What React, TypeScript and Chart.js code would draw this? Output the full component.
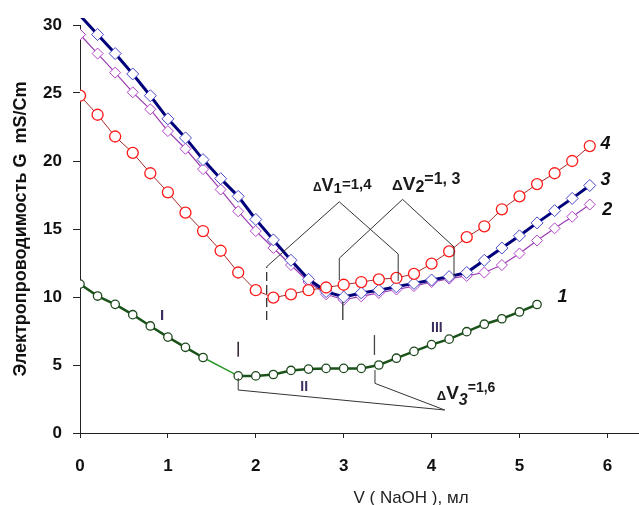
import React, { useEffect, useRef } from "react";
import { Chart, registerables } from "chart.js";
Chart.register(...registerables);

// Volumes of NaOH (ml)
const volumes = [0, 0.2, 0.4, 0.6, 0.8, 1.0, 1.2, 1.4, 1.6, 1.8, 2.0, 2.2, 2.4, 2.6, 2.8, 3.0, 3.2, 3.4, 3.6, 3.8, 4.0, 4.2, 4.4, 4.6, 4.8, 5.0, 5.2, 5.4, 5.6, 5.8];
const volumes1 = [0, 0.2, 0.4, 0.6, 0.8, 1.0, 1.2, 1.4, 1.8, 2.0, 2.2, 2.4, 2.6, 2.8, 3.0, 3.2, 3.4, 3.6, 3.8, 4.0, 4.2, 4.4, 4.6, 4.8, 5.0, 5.2];

// Conductance G (mS/cm)
const curve4 = [24.8, 23.4, 21.8, 20.6, 19.1, 17.7, 16.2, 14.85, 13.4, 11.8, 10.5, 9.95, 10.2, 10.5, 10.7, 10.9, 11.1, 11.3, 11.4, 11.7, 12.45, 13.35, 14.4, 15.2, 16.45, 17.4, 18.3, 19.1, 20.0, 21.1];
const curve3 = [30.7, 29.3, 27.9, 26.4, 24.8, 23.1, 21.7, 20.1, 18.7, 17.4, 15.7, 14.2, 12.7, 11.3, 10.4, 10.0, 10.3, 10.5, 10.75, 11.0, 11.25, 11.5, 11.8, 12.7, 13.6, 14.5, 15.45, 16.35, 17.25, 18.2];
const curve2 = [29.3, 27.9, 26.5, 25.05, 23.8, 22.2, 20.9, 19.4, 17.9, 16.3, 14.85, 13.6, 12.35, 11.1, 10.2, 9.8, 10.05, 10.3, 10.55, 10.8, 11.1, 11.35, 11.55, 11.8, 12.35, 13.2, 14.15, 15.05, 15.9, 16.8];
const curve1 = [10.95, 10.07, 9.46, 8.7, 7.87, 7.05, 6.3, 5.55, 4.2, 4.2, 4.3, 4.6, 4.7, 4.75, 4.75, 4.75, 5.0, 5.5, 6.0, 6.5, 6.9, 7.45, 8.0, 8.4, 8.9, 9.45];

const xTicks = [0, 1, 2, 3, 4, 5, 6];
const yTicks = [0, 5, 10, 15, 20, 25, 30];
const seriesNames = ["4", "3", "2", "1"];
const romanLabels = ["I", "II", "III"];
const deltaLabels = [
  { idx: "1", val: "=1,4" },
  { idx: "2", val: "=1, 3" },
  { idx: "3", val: "=1,6" },
];

const FONT = '"Liberation Sans", Arial, sans-serif';

function pts(xs: number[], ys: number[]) {
  return xs.map((x, i) => ({ x, y: ys[i] }));
}

type Piece = { t: string; size: number; dy: number; italic?: boolean };

function drawRich(ctx: CanvasRenderingContext2D, x: number, y: number, pieces: Piece[]) {
  let cx = x;
  for (const p of pieces) {
    ctx.font = `${p.italic ? "italic " : ""}bold ${p.size}px ${FONT}`;
    ctx.fillText(p.t, cx, y + p.dy);
    cx += ctx.measureText(p.t).width;
  }
}

const annotationPlugin = {
  id: "annotations",
  afterDatasetsDraw(chart: any) {
    const ctx: CanvasRenderingContext2D = chart.ctx;
    const xs = chart.scales.x;
    const ys = chart.scales.y;
    const X = (v: number) => xs.getPixelForValue(v);
    const Y = (v: number) => ys.getPixelForValue(v);
    const line = (p: number[][], w = 1, color = "#333", dash: number[] = []) => {
      ctx.save();
      ctx.strokeStyle = color;
      ctx.lineWidth = w;
      ctx.setLineDash(dash);
      ctx.beginPath();
      p.forEach(([a, b], i) => (i === 0 ? ctx.moveTo(X(a), Y(b)) : ctx.lineTo(X(a), Y(b))));
      ctx.stroke();
      ctx.restore();
    };
    // ΔV1 bracket
    line([[2.124, 8.31], [2.124, 12.23]], 1.3, "#333", [9, 4]);
    line([[2.124, 12.23], [2.95, 17.0], [3.62, 13.16], [3.62, 11.18]]);
    // ΔV2 bracket
    line([[2.95, 11.25], [2.95, 12.85], [3.67, 17.18], [4.255, 13.68], [4.255, 11.47]]);
    line([[2.99, 9.65], [2.99, 8.31]], 1.3);
    // ΔV3 bracket
    line([[1.8, 6.71], [1.8, 5.61]], 1.6, "#3a2a3a");
    line([[3.35, 7.2], [3.35, 5.74]], 1.3, "#444");
    line([[1.8, 4.04], [1.8, 3.16], [4.15, 1.69]]);
    line([[3.356, 4.63], [3.356, 3.65], [4.15, 1.69]]);

    ctx.save();
    ctx.fillStyle = "#1a1a1a";
    ctx.textBaseline = "alphabetic";
    ctx.textAlign = "left";
    drawRich(ctx, X(2.65), Y(17.8), [
      { t: "Δ", size: 12, dy: 0 },
      { t: "V", size: 18, dy: 0 },
      { t: deltaLabels[0].idx, size: 15, dy: 2 },
      { t: deltaLabels[0].val, size: 15, dy: -2 },
    ]);
    drawRich(ctx, X(3.55), Y(17.87), [
      { t: "Δ", size: 15, dy: 0 },
      { t: "V", size: 19, dy: 0 },
      { t: deltaLabels[1].idx, size: 16, dy: 2 },
      { t: deltaLabels[1].val, size: 16, dy: -6 },
    ]);
    drawRich(ctx, X(4.06), Y(2.5), [
      { t: "Δ", size: 13, dy: 1 },
      { t: "V", size: 19, dy: 0 },
      { t: deltaLabels[2].idx, size: 16, dy: 6, italic: true },
      { t: deltaLabels[2].val, size: 14, dy: -7 },
    ]);

    // Roman numerals
    ctx.textAlign = "center";
    ctx.fillStyle = "#3b2d5c";
    ctx.font = `bold 15px ${FONT}`;
    ctx.fillText(romanLabels[0], X(0.933), Y(8.31));
    ctx.font = `bold 14px ${FONT}`;
    ctx.fillText(romanLabels[1], X(2.55), Y(3.09));
    ctx.fillText(romanLabels[2], X(4.06), Y(7.43));

    // Series numbers
    ctx.fillStyle = "#111";
    ctx.font = `italic bold 18px ${FONT}`;
    ctx.fillText(seriesNames[0], X(5.98), Y(20.9));
    ctx.fillText(seriesNames[1], X(5.98), Y(18.24));
    ctx.fillText(seriesNames[2], X(6.0), Y(16.0));
    ctx.fillText(seriesNames[3], X(5.49), Y(9.63));

    // x-axis title
    ctx.fillStyle = "#222";
    ctx.font = `17px ${FONT}`;
    ctx.fillText("V ( NaOH ), мл", 411, 503);
    ctx.restore();
  },
};

export default function App() {
  const ref = useRef<HTMLCanvasElement>(null);
  useEffect(() => {
    if (!ref.current) return;
    const chart = new Chart(ref.current, {
      type: "line",
      data: {
        datasets: [
          {
            label: "4",
            data: pts(volumes, curve4),
            borderColor: "#a52a2a",
            borderWidth: 1,
            pointStyle: "circle",
            pointRadius: 5.5,
            pointBorderColor: "#ff1a1a",
            pointBorderWidth: 1.3,
            pointBackgroundColor: "#ffffff",
          },
          {
            label: "3",
            data: pts(volumes, curve3),
            borderColor: "#00007a",
            borderWidth: 3,
            pointStyle: "rectRot",
            pointRadius: (c: any) => (c.dataIndex === 0 ? 0 : 6),
            pointBorderColor: "#4646c8",
            pointBorderWidth: 1,
            pointBackgroundColor: "#ffffff",
            clip: { left: 0, top: 7, right: 0, bottom: 0 },
          },
          {
            label: "2",
            data: pts(volumes, curve2),
            borderColor: "#9a3cb0",
            borderWidth: 1.2,
            pointStyle: "rectRot",
            pointRadius: 5.5,
            pointBorderColor: "#b344c8",
            pointBorderWidth: 1,
            pointBackgroundColor: "#ffffff",
          },
          {
            label: "1",
            data: pts(volumes1, curve1),
            borderColor: "#1a531a",
            borderWidth: 2.5,
            segment: {
              borderColor: (c: any) => (c.p0.parsed.x > 1.3 && c.p0.parsed.x < 1.5 ? "#2e9a2e" : undefined),
              borderWidth: (c: any) => (c.p0.parsed.x > 1.3 && c.p0.parsed.x < 1.5 ? 1.5 : undefined),
            },
            pointStyle: "circle",
            pointRadius: 4.2,
            pointBorderColor: "#1e4a1e",
            pointBorderWidth: 1.3,
            pointBackgroundColor: "#ffffff",
          },
        ],
      },
      options: {
        animation: false,
        responsive: false,
        devicePixelRatio: 1,
        layout: { padding: { top: 25, right: 0, left: 0, bottom: 0 } },
        plugins: { legend: { display: false }, tooltip: { enabled: false } },
        elements: { line: { tension: 0 } },
        scales: {
          x: {
            type: "linear",
            min: 0,
            max: 6.36,
            afterFit: (s: any) => {
              s.height = 72;
              s.paddingLeft = 0;
              s.paddingRight = 0;
            },
            afterBuildTicks: (s: any) => {
              s.ticks = xTicks.map((v) => ({ value: v }));
            },
            ticks: {
              stepSize: 1,
              includeBounds: false,
              padding: 18,
              color: "#111",
              font: { family: FONT, size: 17, weight: "bold" },
            },
            grid: { display: true, drawOnChartArea: false, drawTicks: true, tickLength: 5, color: "#222" },
            border: { display: true, color: "#222", width: 1 },
          },
          y: {
            type: "linear",
            min: 0,
            max: 30,
            afterFit: (s: any) => {
              s.width = 80;
            },
            afterBuildTicks: (s: any) => {
              s.ticks = yTicks.map((v) => ({ value: v }));
            },
            ticks: {
              stepSize: 5,
              padding: 11,
              color: "#111",
              font: { family: FONT, size: 17, weight: "bold" },
            },
            grid: { display: true, drawOnChartArea: false, drawTicks: true, tickLength: 7, color: "#222" },
            border: { display: true, color: "#222", width: 1 },
            title: {
              display: true,
              text: "Электропроводимость G  mS/Cm",
              color: "#111",
              font: { family: FONT, size: 18, weight: "bold" },
              padding: { top: 10, bottom: 0 },
            },
          },
        },
      },
      plugins: [annotationPlugin],
    } as any);
    return () => chart.destroy();
  }, []);
  return (
    <div style={{ position: "fixed", left: 0, top: 0, width: 639, height: 505, overflow: "hidden", background: "#fff" }}>
      <canvas ref={ref} width={646} height={505} style={{ display: "block" }} />
    </div>
  );
}
